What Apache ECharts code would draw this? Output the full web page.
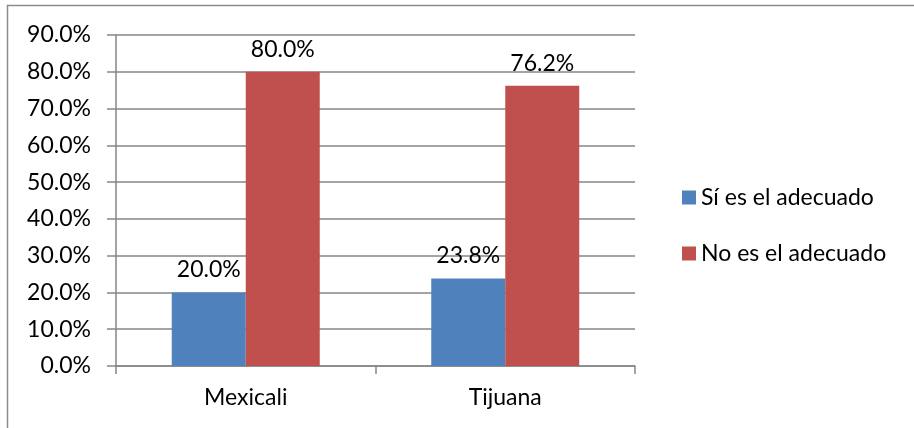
<!DOCTYPE html>
<html><head><meta charset="utf-8">
<script src="https://cdn.jsdelivr.net/npm/echarts@6/dist/echarts.min.js"></script>
<style>html,body{margin:0;padding:0;background:#fff}#c{width:914px;height:428px}</style>
</head><body><div id="c"></div>
<script>
const categories = ['Mexicali', 'Tijuana'];
const seriesNames = ['Sí es el adecuado', 'No es el adecuado'];
const siValues = [20.0, 23.8];
const noValues = [80.0, 76.2];
const yTicks = [0, 10, 20, 30, 40, 50, 60, 70, 80, 90];

const FONT = 'Lato';
const FS = 23;
const chart = echarts.init(document.getElementById('c'), null, {renderer: 'canvas'});
const lbl = {show: true, position: 'top', distance: 11, color: '#000', fontFamily: FONT, fontSize: FS,
  formatter: p => p.value.toFixed(1) + '%'};
chart.setOption({
  animation: false,
  graphic: [{type: 'rect', shape: {x: 7.5, y: 5.5, width: 920, height: 440},
    style: {fill: 'none', stroke: '#8c8c8c', lineWidth: 1.5}, z: -1}],
  grid: {left: 116, right: 279, top: 35, bottom: 62, containLabel: false},
  legend: {orient: 'vertical', left: 677, top: 181, itemWidth: 14, itemHeight: 14, itemGap: 33,
    icon: 'rect', textStyle: {fontFamily: FONT, fontSize: FS, color: '#000', padding: [0, 0, 0, 0]},
    data: seriesNames},
  xAxis: {type: 'category', data: categories,
    axisLine: {lineStyle: {color: '#868686', width: 1.5}},
    axisTick: {show: true, inside: false, length: 8, alignWithLabel: false, lineStyle: {color: '#868686', width: 1.5}},
    axisLabel: {color: '#000', fontFamily: FONT, fontSize: FS, margin: 20}},
  yAxis: {type: 'value', min: yTicks[0], max: yTicks[yTicks.length - 1], interval: 10,
    axisLine: {show: true, lineStyle: {color: '#868686', width: 1.5}},
    axisTick: {show: true, length: 9, lineStyle: {color: '#868686', width: 1.5}},
    splitLine: {lineStyle: {color: '#868686', width: 1.5}},
    axisLabel: {color: '#000', fontFamily: FONT, fontSize: FS, margin: 25,
      formatter: v => v.toFixed(1) + '%'}},
  series: [
    {name: seriesNames[0], type: 'bar', data: siValues, barWidth: 74, barGap: '0%',
     itemStyle: {color: '#4F81BD'}, label: lbl},
    {name: seriesNames[1], type: 'bar', data: noValues, barWidth: 74, barGap: '0%',
     itemStyle: {color: '#C0504D'}, label: lbl}
  ]
});
</script></body></html>
